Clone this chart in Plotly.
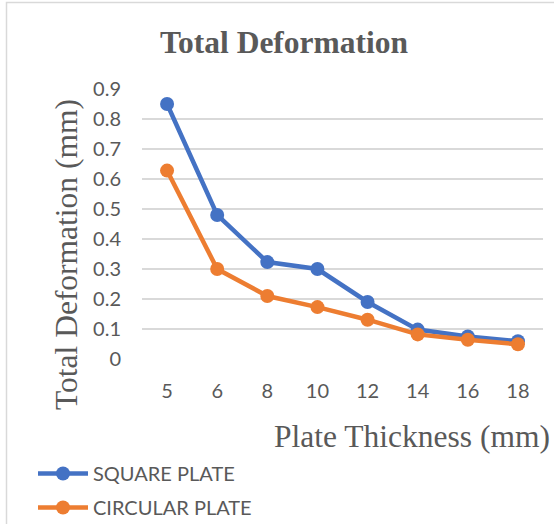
import plotly.graph_objects as go

thickness = ["5", "6", "8", "10", "12", "14", "16", "18"]
square_plate = [0.85, 0.48, 0.323, 0.30, 0.19, 0.098, 0.075, 0.059]
circular_plate = [0.628, 0.30, 0.21, 0.173, 0.131, 0.082, 0.064, 0.049]
y_ticks = [0, 0.1, 0.2, 0.3, 0.4, 0.5, 0.6, 0.7, 0.8, 0.9]
y_tick_text = ["0", "0.1", "0.2", "0.3", "0.4", "0.5", "0.6", "0.7", "0.8", "0.9"]

BLUE = "#4472C4"
ORANGE = "#ED7D31"
GRAY = "#595959"
GRID = "#D9D9D9"

fig = go.Figure()
fig.add_trace(go.Scatter(x=thickness, y=square_plate, mode="lines+markers", name="SQUARE PLATE",
                         legendgroup="a",
                         line=dict(color=BLUE, width=4.5), marker=dict(color=BLUE, size=14)))
fig.add_trace(go.Scatter(x=thickness, y=circular_plate, mode="lines+markers", name="CIRCULAR PLATE",
                         legendgroup="b",
                         line=dict(color=ORANGE, width=4.5), marker=dict(color=ORANGE, size=14)))

W, H = 554, 524
L, R, T, B = 142, 11, 89, 165
pw, ph = W - L - R, H - T - B

def px(x):
    return (x - L) / pw

def py(y):
    return (H - B - y) / ph

fig.update_layout(
    width=W, height=H,
    margin=dict(l=L, r=R, t=T, b=B, autoexpand=False),
    paper_bgcolor="white", plot_bgcolor="white",
    title=dict(text="<b>Total Deformation</b>", x=284 / W, xanchor="center",
               y=1 - 42 / H, yanchor="middle",
               font=dict(family="Liberation Serif", size=31.5, color=GRAY)),
    xaxis=dict(type="category", range=[-0.5, len(thickness) - 0.5],
               showgrid=False, showline=False, zeroline=False, automargin=False,
               tickfont=dict(family="Lato", size=20, color=GRAY), ticklabelstandoff=18),
    yaxis=dict(range=[0, 0.9], tickvals=y_ticks, ticktext=y_tick_text, automargin=False,
               showgrid=True, gridcolor=GRID, gridwidth=1.5, zeroline=False, showline=False,
               tickfont=dict(family="Lato", size=20, color=GRAY), ticklabelstandoff=20),
    showlegend=True,
    legend=dict(xref="container", yref="container", x=33 / W, y=1 - 454 / H,
                xanchor="left", yanchor="top", itemwidth=50,
                font=dict(family="Lato", size=20, color=GRAY), tracegroupgap=5,
                bgcolor="rgba(0,0,0,0)"),
    annotations=[
        dict(text="Total Deformation (mm)", textangle=-90, xref="paper", yref="paper",
             x=px(66), y=py(255), xanchor="center", yanchor="middle", showarrow=False,
             font=dict(family="Liberation Serif", size=31.5, color=GRAY)),
        dict(text="Plate Thickness (mm)", xref="paper", yref="paper",
             x=px(552), y=py(436), xanchor="right", yanchor="middle", showarrow=False,
             font=dict(family="Liberation Serif", size=31.5, color=GRAY)),
    ],
    shapes=[
        dict(type="rect", xref="paper", yref="paper", x0=px(6.5), x1=px(600), y0=py(2.5), y1=py(600),
             line=dict(color=GRID, width=1.5), fillcolor="rgba(0,0,0,0)", layer="below"),
    ],
)

fig.write_html("out.html")
